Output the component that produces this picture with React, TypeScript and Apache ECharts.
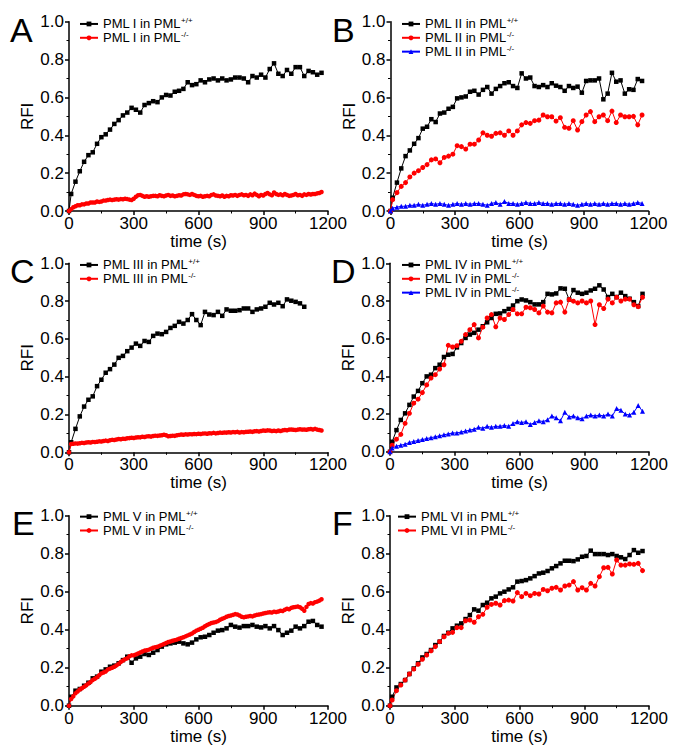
import React, { useEffect, useRef } from "react";
import * as echarts from "echarts";

const FONT = "'Liberation Sans', Arial, Helvetica, sans-serif";
const X_MIN = 0;
const X_MAX = 1200;
const X_STEP = 300;
const Y_MIN = 0;
const Y_MAX = 1;
const Y_STEP = 0.2;
const X_AXIS_NAME = "time (s)";
const Y_AXIS_NAME = "RFI";
const PANEL_LETTERS = ["A", "B", "C", "D", "E", "F"];

// sampling grid of the recordings: sparse series at 0, 10, 30, 50 ... s; dense series every 10 s
const SPARSE_FIRST = 10;
const SPARSE_STEP = 20;
const DENSE_STEP = 10;

const BLACK = "#000000";
const RED = "#ff0000";
const BLUE = "#0000ff";

// Panel A
const A_WT = [0, 0.09, 0.155, 0.21, 0.26, 0.295, 0.31, 0.355, 0.39, 0.405,
  0.43, 0.46, 0.48, 0.505, 0.52, 0.545, 0.535, 0.52, 0.56, 0.57,
  0.58, 0.575, 0.6, 0.613, 0.61, 0.63, 0.635, 0.645, 0.68, 0.665,
  0.67, 0.69, 0.68, 0.695, 0.7, 0.69, 0.7, 0.69, 0.695, 0.705,
  0.705, 0.7, 0.68, 0.713, 0.705, 0.72, 0.705, 0.75, 0.78, 0.725,
  0.713, 0.745, 0.725, 0.76, 0.76, 0.713, 0.74, 0.733, 0.72, 0.73];
const A_KO = [0, 0.01, 0.02, 0.025, 0.03, 0.03, 0.035, 0.035, 0.04, 0.04,
  0.045, 0.045, 0.045, 0.05, 0.048, 0.05, 0.055, 0.055, 0.058, 0.06,
  0.058, 0.06, 0.062, 0.06, 0.063, 0.062, 0.065, 0.063, 0.06, 0.058,
  0.065, 0.075, 0.083, 0.085, 0.08, 0.075, 0.078, 0.075, 0.078, 0.08,
  0.08, 0.078, 0.083, 0.08, 0.078, 0.082, 0.085, 0.08, 0.082, 0.078,
  0.08, 0.083, 0.082, 0.088, 0.09, 0.088, 0.085, 0.09, 0.085, 0.08,
  0.078, 0.08, 0.075, 0.078, 0.08, 0.078, 0.085, 0.088, 0.082, 0.08,
  0.078, 0.082, 0.075, 0.08, 0.078, 0.083, 0.082, 0.085, 0.08, 0.085,
  0.088, 0.083, 0.085, 0.08, 0.088, 0.083, 0.092, 0.085, 0.078, 0.085,
  0.082, 0.09, 0.095, 0.088, 0.083, 0.098, 0.09, 0.085, 0.088, 0.083,
  0.09, 0.085, 0.08, 0.082, 0.085, 0.09, 0.083, 0.085, 0.08, 0.088,
  0.085, 0.09, 0.087, 0.09, 0.09, 0.093, 0.095, 0.1];

// Panel B
const B_WT = [0, 0.07, 0.15, 0.225, 0.29, 0.32, 0.355, 0.385, 0.435, 0.445,
  0.485, 0.47, 0.515, 0.52, 0.54, 0.55, 0.595, 0.6, 0.605, 0.63,
  0.635, 0.615, 0.64, 0.655, 0.62, 0.645, 0.66, 0.675, 0.68, 0.66,
  0.65, 0.727, 0.7, 0.705, 0.66, 0.655, 0.665, 0.655, 0.675, 0.662,
  0.655, 0.635, 0.66, 0.65, 0.657, 0.625, 0.687, 0.69, 0.69, 0.7,
  0.59, 0.62, 0.73, 0.683, 0.69, 0.62, 0.643, 0.64, 0.697, 0.687];
const B_KO = [0, 0.06, 0.097, 0.13, 0.15, 0.18, 0.2, 0.213, 0.23, 0.245,
  0.27, 0.275, 0.255, 0.283, 0.29, 0.3, 0.345, 0.34, 0.327, 0.353,
  0.353, 0.375, 0.413, 0.4, 0.395, 0.41, 0.413, 0.4, 0.423, 0.4,
  0.423, 0.455, 0.467, 0.463, 0.477, 0.48, 0.507, 0.498, 0.498, 0.475,
  0.493, 0.442, 0.437, 0.477, 0.428, 0.472, 0.507, 0.525, 0.472, 0.498,
  0.507, 0.477, 0.528, 0.467, 0.507, 0.498, 0.498, 0.5, 0.455, 0.507];
const B_KO2 = [0, 0.015, 0.02, 0.025, 0.025, 0.03, 0.03, 0.035, 0.03, 0.035,
  0.04, 0.035, 0.04, 0.035, 0.03, 0.035, 0.04, 0.035, 0.04, 0.035,
  0.04, 0.04, 0.035, 0.03, 0.04, 0.045, 0.035, 0.05, 0.04, 0.04,
  0.035, 0.04, 0.045, 0.04, 0.04, 0.045, 0.04, 0.04, 0.035, 0.04,
  0.04, 0.035, 0.04, 0.035, 0.03, 0.035, 0.04, 0.035, 0.04, 0.035,
  0.04, 0.035, 0.04, 0.04, 0.035, 0.04, 0.035, 0.04, 0.045, 0.04];

// Panel C
const C_WT = [0, 0.053, 0.124, 0.19, 0.242, 0.278, 0.296, 0.35, 0.384, 0.421,
  0.44, 0.464, 0.5, 0.51, 0.535, 0.554, 0.575, 0.563, 0.589, 0.584,
  0.616, 0.628, 0.625, 0.637, 0.658, 0.669, 0.69, 0.681, 0.7, 0.731,
  0.7, 0.673, 0.743, 0.729, 0.726, 0.743, 0.722, 0.756, 0.749, 0.749,
  0.752, 0.761, 0.761, 0.743, 0.756, 0.761, 0.77, 0.791, 0.782, 0.791,
  0.773, 0.809, 0.802, 0.796, 0.788, 0.77];
const C_KO = [0, 0.044, 0.045, 0.047, 0.046, 0.048, 0.05, 0.049, 0.052, 0.053,
  0.052, 0.055, 0.054, 0.056, 0.058, 0.057, 0.06, 0.062, 0.06, 0.064,
  0.066, 0.065, 0.068, 0.07, 0.069, 0.072, 0.071, 0.074, 0.075, 0.077,
  0.076, 0.078, 0.08, 0.079, 0.082, 0.081, 0.084, 0.085, 0.083, 0.086,
  0.088, 0.087, 0.089, 0.09, 0.093, 0.09, 0.085, 0.086, 0.088, 0.087,
  0.09, 0.092, 0.094, 0.093, 0.095, 0.094, 0.096, 0.095, 0.097, 0.096,
  0.098, 0.097, 0.099, 0.1, 0.098, 0.101, 0.1, 0.103, 0.1, 0.102,
  0.104, 0.103, 0.105, 0.104, 0.106, 0.105, 0.107, 0.106, 0.108, 0.105,
  0.107, 0.106, 0.108, 0.109, 0.11, 0.108, 0.111, 0.112, 0.11, 0.113,
  0.115, 0.114, 0.116, 0.115, 0.113, 0.114, 0.112, 0.115, 0.113, 0.116,
  0.118, 0.117, 0.12, 0.121, 0.119, 0.118, 0.12, 0.122, 0.12, 0.121,
  0.119, 0.122, 0.123, 0.121, 0.124, 0.12, 0.118, 0.115];

// Panel D
const D_WT = [0, 0.053, 0.115, 0.169, 0.204, 0.249, 0.293, 0.323, 0.364, 0.4,
  0.409, 0.444, 0.462, 0.503, 0.515, 0.519, 0.554, 0.577, 0.604, 0.622,
  0.631, 0.648, 0.666, 0.687, 0.71, 0.732, 0.734, 0.746, 0.758, 0.776,
  0.799, 0.808, 0.803, 0.794, 0.782, 0.782, 0.794, 0.838, 0.835, 0.84,
  0.867, 0.865, 0.808, 0.858, 0.844, 0.838, 0.844, 0.856, 0.865, 0.883,
  0.861, 0.821, 0.838, 0.821, 0.844, 0.826, 0.812, 0.794, 0.773, 0.838];
const D_KO = [0, 0.035, 0.067, 0.092, 0.151, 0.204, 0.258, 0.279, 0.314, 0.355,
  0.391, 0.409, 0.439, 0.462, 0.565, 0.556, 0.563, 0.586, 0.622, 0.648,
  0.675, 0.604, 0.661, 0.71, 0.728, 0.663, 0.71, 0.702, 0.728, 0.755,
  0.732, 0.732, 0.767, 0.764, 0.755, 0.737, 0.773, 0.741, 0.737, 0.79,
  0.794, 0.741, 0.808, 0.799, 0.79, 0.8, 0.79, 0.8, 0.675, 0.78,
  0.76, 0.81, 0.79, 0.82, 0.8, 0.81, 0.81, 0.78, 0.77, 0.82];
const D_KO2 = [0, 0.02, 0.03, 0.035, 0.04, 0.05, 0.055, 0.06, 0.065, 0.07,
  0.075, 0.08, 0.085, 0.09, 0.095, 0.1, 0.1, 0.105, 0.11, 0.115,
  0.12, 0.13, 0.125, 0.135, 0.13, 0.135, 0.135, 0.14, 0.135, 0.15,
  0.16, 0.155, 0.16, 0.145, 0.155, 0.165, 0.16, 0.17, 0.19, 0.18,
  0.165, 0.21, 0.185, 0.19, 0.18, 0.175, 0.19, 0.195, 0.19, 0.195,
  0.19, 0.2, 0.19, 0.23, 0.22, 0.2, 0.195, 0.21, 0.245, 0.215];

// Panel E
const E_WT = [0, 0.047, 0.079, 0.088, 0.105, 0.121, 0.144, 0.153, 0.179, 0.191,
  0.205, 0.211, 0.223, 0.24, 0.258, 0.226, 0.249, 0.258, 0.272, 0.267,
  0.279, 0.293, 0.311, 0.323, 0.328, 0.332, 0.337, 0.328, 0.323, 0.332,
  0.349, 0.36, 0.363, 0.372, 0.384, 0.395, 0.398, 0.407, 0.425, 0.416,
  0.411, 0.419, 0.419, 0.425, 0.416, 0.412, 0.419, 0.407, 0.419, 0.398,
  0.372, 0.384, 0.395, 0.416, 0.407, 0.419, 0.442, 0.446, 0.425, 0.416];
const E_KO = [0, 0.035, 0.05, 0.065, 0.075, 0.085, 0.092, 0.1, 0.108, 0.117,
  0.125, 0.135, 0.142, 0.15, 0.16, 0.17, 0.175, 0.18, 0.19, 0.195,
  0.2, 0.205, 0.212, 0.22, 0.23, 0.238, 0.245, 0.25, 0.26, 0.265,
  0.265, 0.27, 0.275, 0.28, 0.285, 0.29, 0.292, 0.295, 0.3, 0.305,
  0.308, 0.31, 0.315, 0.32, 0.325, 0.33, 0.335, 0.338, 0.342, 0.345,
  0.348, 0.352, 0.356, 0.36, 0.365, 0.37, 0.375, 0.38, 0.388, 0.395,
  0.4, 0.405, 0.41, 0.418, 0.425, 0.43, 0.435, 0.438, 0.44, 0.445,
  0.452, 0.458, 0.462, 0.468, 0.472, 0.475, 0.478, 0.482, 0.48, 0.475,
  0.468, 0.465, 0.468, 0.47, 0.472, 0.47, 0.475, 0.478, 0.48, 0.482,
  0.485, 0.488, 0.49, 0.492, 0.49, 0.495, 0.493, 0.496, 0.5, 0.498,
  0.505, 0.51, 0.508, 0.515, 0.518, 0.52, 0.522, 0.518, 0.51, 0.5,
  0.52, 0.535, 0.54, 0.538, 0.545, 0.548, 0.553, 0.56];

// Panel F
const F_WT = [0, 0.047, 0.096, 0.114, 0.135, 0.167, 0.196, 0.223, 0.254, 0.272,
  0.293, 0.319, 0.337, 0.367, 0.384, 0.407, 0.421, 0.433, 0.456, 0.477,
  0.507, 0.5, 0.53, 0.542, 0.565, 0.574, 0.591, 0.6, 0.612, 0.623,
  0.653, 0.656, 0.661, 0.67, 0.682, 0.696, 0.7, 0.709, 0.723, 0.735,
  0.749, 0.763, 0.763, 0.761, 0.77, 0.784, 0.788, 0.816, 0.798, 0.798,
  0.798, 0.793, 0.798, 0.788, 0.781, 0.772, 0.793, 0.819, 0.805, 0.814];
const F_KO = [0, 0.03, 0.079, 0.109, 0.135, 0.167, 0.193, 0.218, 0.244, 0.267,
  0.289, 0.311, 0.337, 0.363, 0.381, 0.386, 0.411, 0.411, 0.447, 0.451,
  0.439, 0.468, 0.481, 0.518, 0.533, 0.539, 0.53, 0.553, 0.556, 0.551,
  0.595, 0.574, 0.591, 0.579, 0.591, 0.588, 0.612, 0.605, 0.618, 0.623,
  0.609, 0.63, 0.635, 0.653, 0.609, 0.621, 0.609, 0.644, 0.63, 0.679,
  0.726, 0.728, 0.693, 0.767, 0.74, 0.74, 0.746, 0.744, 0.749, 0.711];

type Spec = {
  panel: number;
  key: string;
  label: [string, string];
  color: string;
  symbol: string;
  size: number;
  values: number[];
  dense: boolean;
};

const SPECS: Spec[] = [
  { panel: 0, key: "A1", label: ["PML I in PML", "+/+"], color: BLACK, symbol: "rect", size: 4.5, values: A_WT, dense: false },
  { panel: 0, key: "A2", label: ["PML I in PML", "-/-"], color: RED, symbol: "circle", size: 4.5, values: A_KO, dense: true },
  { panel: 1, key: "B1", label: ["PML II in PML", "+/+"], color: BLACK, symbol: "rect", size: 4.5, values: B_WT, dense: false },
  { panel: 1, key: "B2", label: ["PML II in PML", "-/-"], color: RED, symbol: "circle", size: 5, values: B_KO, dense: false },
  { panel: 1, key: "B3", label: ["PML II in PML", "-/-"], color: BLUE, symbol: "triangle", size: 5, values: B_KO2, dense: false },
  { panel: 2, key: "C1", label: ["PML III in PML", "+/+"], color: BLACK, symbol: "rect", size: 4.5, values: C_WT, dense: false },
  { panel: 2, key: "C2", label: ["PML III in PML", "-/-"], color: RED, symbol: "circle", size: 4.5, values: C_KO, dense: true },
  { panel: 3, key: "D1", label: ["PML IV in PML", "+/+"], color: BLACK, symbol: "rect", size: 4.5, values: D_WT, dense: false },
  { panel: 3, key: "D2", label: ["PML IV in PML", "-/-"], color: RED, symbol: "circle", size: 5, values: D_KO, dense: false },
  { panel: 3, key: "D3", label: ["PML IV in PML", "-/-"], color: BLUE, symbol: "triangle", size: 5, values: D_KO2, dense: false },
  { panel: 4, key: "E1", label: ["PML V in PML", "+/+"], color: BLACK, symbol: "rect", size: 4.5, values: E_WT, dense: false },
  { panel: 4, key: "E2", label: ["PML V in PML", "-/-"], color: RED, symbol: "circle", size: 4.5, values: E_KO, dense: true },
  { panel: 5, key: "F1", label: ["PML VI in PML", "+/+"], color: BLACK, symbol: "rect", size: 4.5, values: F_WT, dense: false },
  { panel: 5, key: "F2", label: ["PML VI in PML", "-/-"], color: RED, symbol: "circle", size: 5, values: F_KO, dense: false },
];

// layout (pixels)
const GRIDS = [
  { left: 69, top: 21.7, width: 259, height: 189.3 },
  { left: 390.5, top: 21.7, width: 258, height: 189.3 },
  { left: 69, top: 263.3, width: 259, height: 189 },
  { left: 390, top: 263.3, width: 259, height: 188.5 },
  { left: 69, top: 515.7, width: 259, height: 190 },
  { left: 390, top: 515.7, width: 259, height: 190 },
];
const LEGEND_POS = [
  { left: 79, top: 16.6 },
  { left: 401, top: 16.6 },
  { left: 79, top: 257.6 },
  { left: 401, top: 257.6 },
  { left: 79, top: 509.3 },
  { left: 397, top: 509.3 },
];
const LETTER_POS = [
  { left: 10, top: 12.5 },
  { left: 332, top: 12.5 },
  { left: 10, top: 253.8 },
  { left: 331, top: 253.8 },
  { left: 12, top: 505.5 },
  { left: 332, top: 505.5 },
];

function timeOf(i: number, dense: boolean) {
  if (dense) return i * DENSE_STEP;
  return i === 0 ? 0 : SPARSE_FIRST + SPARSE_STEP * (i - 1);
}

function buildOption() {
  const labelMap: Record<string, [string, string]> = {};
  SPECS.forEach((s) => (labelMap[s.key] = s.label));

  const axisCommon = {
    axisLine: { show: true, onZero: false, lineStyle: { color: "#000", width: 1.5 } },
    axisTick: { show: true, inside: false, length: 4, lineStyle: { color: "#000", width: 1.5 } },
    minorTick: { show: true, splitNumber: 2, length: 2.5, lineStyle: { color: "#000", width: 1 } },
    splitLine: { show: false },
    minorSplitLine: { show: false },
  };

  const xAxis = GRIDS.map((_, i) => ({
    type: "value",
    gridIndex: i,
    min: X_MIN,
    max: X_MAX,
    interval: X_STEP,
    ...axisCommon,
    axisLabel: {
      color: "#000",
      fontSize: 17,
      fontFamily: FONT,
      margin: 4,
      showMaxLabel: true,
      showMinLabel: true,
      formatter: (v: number) => String(v),
    },
    name: X_AXIS_NAME,
    nameLocation: "middle",
    nameGap: 13,
    nameTextStyle: { color: "#000", fontSize: 17, fontFamily: FONT },
  }));

  const yAxis = GRIDS.map((_, i) => ({
    type: "value",
    gridIndex: i,
    min: Y_MIN,
    max: Y_MAX,
    interval: Y_STEP,
    ...axisCommon,
    axisLabel: {
      color: "#000",
      fontSize: 17,
      fontFamily: FONT,
      margin: 5,
      formatter: (v: number) => v.toFixed(1),
    },
    name: Y_AXIS_NAME,
    nameLocation: "middle",
    nameGap: 30,
    nameTextStyle: { color: "#000", fontSize: 17, fontFamily: FONT },
  }));

  const series = SPECS.map((s) => ({
    type: "line",
    name: s.key,
    xAxisIndex: s.panel,
    yAxisIndex: s.panel,
    data: s.values.map((v, i) => [timeOf(i, s.dense), v]),
    symbol: s.symbol,
    symbolSize: s.size,
    showSymbol: true,
    showAllSymbol: true,
    lineStyle: { color: s.color, width: 1 },
    itemStyle: { color: s.color, borderWidth: 0 },
    emphasis: { disabled: true },
    clip: false,
  }));

  const legend = GRIDS.map((_, p) => ({
    orient: "vertical",
    left: LEGEND_POS[p].left,
    top: LEGEND_POS[p].top,
    padding: 0,
    itemGap: 0,
    itemWidth: 18,
    itemHeight: 6,
    selectedMode: false,
    data: SPECS.filter((s) => s.panel === p).map((s) => s.key),
    formatter: (name: string) => {
      const l = labelMap[name];
      return `{b|${l[0]}}{s|${l[1]}}`;
    },
    textStyle: {
      color: "#000",
      fontFamily: FONT,
      rich: {
        b: { fontSize: 13, lineHeight: 14.7, fontFamily: FONT, color: "#000" },
        s: { fontSize: 8, lineHeight: 10, verticalAlign: "top", fontFamily: FONT, color: "#000" },
      },
    },
  }));

  const graphic = PANEL_LETTERS.map((t, i) => ({
    type: "text",
    left: LETTER_POS[i].left,
    top: LETTER_POS[i].top,
    style: { text: t, fontSize: 34, fontFamily: FONT, fill: "#000" },
  }));

  return {
    animation: false,
    backgroundColor: "#ffffff",
    grid: GRIDS.map((g) => ({ ...g, containLabel: false })),
    xAxis,
    yAxis,
    legend,
    series,
    graphic,
  };
}

export default function App() {
  const ref = useRef<HTMLDivElement>(null);
  useEffect(() => {
    document.body.style.margin = "0";
    if (!ref.current) return;
    const chart = echarts.init(ref.current, null, { renderer: "svg" });
    chart.setOption(buildOption() as any);
    return () => chart.dispose();
  }, []);
  return <div ref={ref} style={{ width: 685, height: 752 }} />;
}
